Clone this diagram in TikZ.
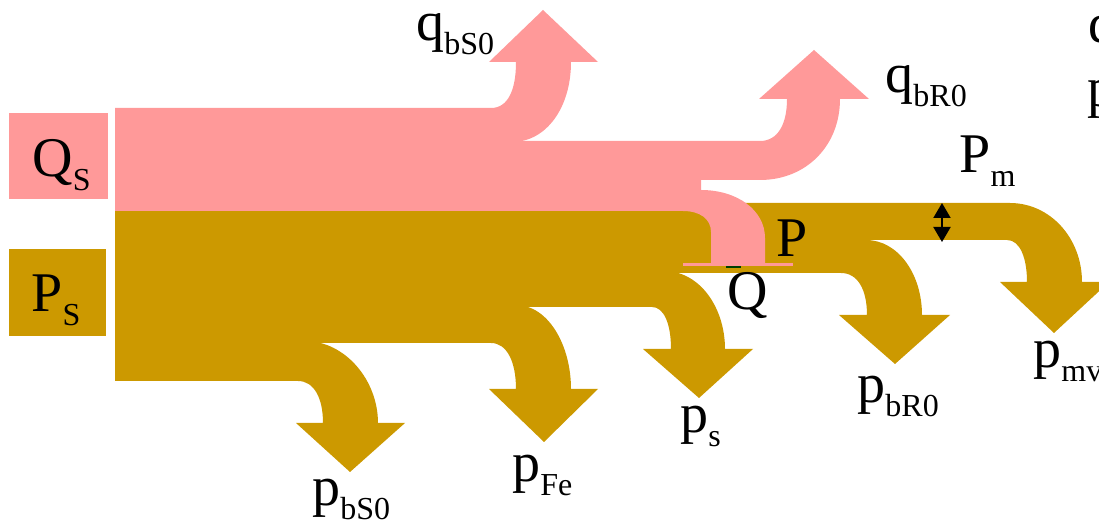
\documentclass[tikz,border=0pt]{standalone}
\usepackage{fontspec}
\setmainfont{Liberation Serif}
\usetikzlibrary{arrows.meta}
\definecolor{qpink}{RGB}{255,153,153}
\definecolor{pgold}{RGB}{204,153,0}
\newcommand{\flowlbl}[2]{#1\raisebox{-7pt}{\fontsize{16}{16}\selectfont #2}}

\begin{document}
\begin{tikzpicture}[x=0.5pt, y=-0.5pt,
    qflow/.style={fill=qpink},
    pflow/.style={fill=pgold},
    lbl/.style={anchor=base west, inner sep=0pt, font=\fontsize{28}{32}\selectfont}]
    \useasboundingbox (0,0) rectangle (1099,523);
    \clip (0,0) rectangle (1099,523);

    % Input boxes
    \fill[qflow] (9,113) rectangle (108,199);
    \fill[pflow] (9,249) rectangle (106,336);
    \node[lbl] (QS) at (32,177) {\flowlbl{Q}{S}};
    \node[lbl] (PS) at (31,312) {\flowlbl{P}{S}};

    % Active power: trunk towards P
    \fill[pflow] (115,211) rectangle (712,273);

    % Losses p_bS0, p_Fe, p_s
    \fill[pflow] (115,341) -- (305,341) .. controls (345,341) and (378,380) .. (378,423)
        -- (405,423) -- (350,472) -- (296,423) -- (323,423)
        .. controls (323,398) and (314,381) .. (298,381) -- (115,381) -- cycle;
    \fill[pflow] (115,305) -- (516,305) .. controls (548,305) and (571,345) .. (571,389)
        -- (598,389) -- (544,442) -- (489,389) -- (516,389)
        .. controls (516,362) and (507,343) .. (491,343) -- (115,343) -- cycle;
    \fill[pflow] (115,271) -- (664,271) .. controls (700,271) and (725,308) .. (725,349)
        -- (753,349) -- (699,398) -- (643,349) -- (671,349)
        .. controls (671,324) and (664,307) .. (652,307) -- (115,307) -- cycle;

    % P split into p_bR0 and P_m
    \fill[pflow] (711,203) -- (1010,203) .. controls (1050,203) and (1082,238) .. (1082,282)
        -- (1109,282) -- (1054,333) -- (1000,282) -- (1027,282)
        .. controls (1027,258) and (1020,240) .. (1007,240) -- (866,240)
        .. controls (898,240) and (922,274) .. (922,315)
        -- (950,315) -- (895,364) -- (839,315) -- (867,315)
        .. controls (867,290) and (858,273) .. (841,273) -- (711,273) -- cycle;

    % Reactive power: q_bS0, q_bR0 and Q
    \fill[qflow] (115,108) -- (491,108) .. controls (508,108) and (516,90) .. (516,62)
        -- (489,62) -- (543,10) -- (598,62) -- (571,62)
        .. controls (571,108) and (546,142) .. (512,142) -- (115,142) -- cycle;
    \fill[qflow] (115,141) -- (760,141) .. controls (778,141) and (787,124) .. (787,99)
        -- (759,99) -- (814,50) -- (869,99) -- (840,99)
        .. controls (840,146) and (806,180) .. (760,180) -- (115,180) -- cycle;
    \fill[qflow] (115,179) -- (701,179) -- (701,190) .. controls (737,190) and (765,210) .. (765,238)
        -- (765,265) -- (711,265) -- (711,232)
        .. controls (711,219) and (700,211) .. (683,211) -- (115,211) -- cycle;
    \fill[qflow] (683,263) rectangle (793,266);
    \draw[line width=1pt, black!75!green] (726,267) -- (741,267);

    % Thickness of P_m
    \coordinate (pmtop) at (942,203);
    \coordinate (pmbot) at (942,242);
    \draw[line width=1pt, {Triangle[width=8.5pt,length=7.5pt]}-{Triangle[width=8.5pt,length=7.5pt]}] (pmtop) -- (pmbot);

    % Labels
    \node[lbl] (qbS0) at (416,41) {\flowlbl{q}{bS0}};
    \node[lbl] (qbR0) at (885,93) {\flowlbl{q}{bR0}};
    \node[lbl] (Pm) at (959,173) {\flowlbl{P}{m}};
    \node[lbl] (Plbl) at (776,257) {P};
    \node[lbl] (Qlbl) at (727,310) {Q};
    \node[lbl] (pbS0) at (312,506) {\flowlbl{p}{bS0}};
    \node[lbl] (pFe) at (512,482) {\flowlbl{p}{Fe}};
    \node[lbl] (ps) at (680,433) {\flowlbl{p}{s}};
    \node[lbl] (pbR0) at (857,403) {\flowlbl{p}{bR0}};
    \node[lbl] (pmv) at (1033,368) {\flowlbl{p}{mv}};
    \node[lbl] (qcut) at (1088,43) {q};
    \node[lbl] (pcut) at (1087,107) {p};

\end{tikzpicture}
\end{document}
